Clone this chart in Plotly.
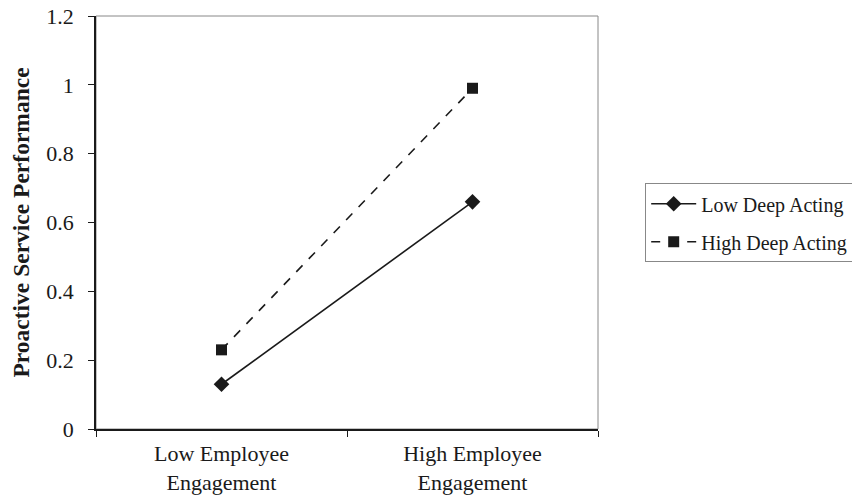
import plotly.graph_objects as go

categories = ["Low Employee<br>Engagement", "High Employee<br>Engagement"]
low_deep_acting = [0.13, 0.66]
high_deep_acting = [0.23, 0.99]
series_names = ["Low Deep Acting", "High Deep Acting"]

FONT = "Liberation Serif"

fig = go.Figure()
fig.add_trace(go.Scatter(
    x=categories, y=low_deep_acting, name=series_names[0],
    legendgroup="a",
    mode="lines+markers",
    line=dict(color="#1a1a1a", width=1.6),
    marker=dict(symbol="diamond", size=12, color="#1a1a1a"),
))
fig.add_trace(go.Scatter(
    x=categories, y=high_deep_acting, name=series_names[1],
    legendgroup="b",
    mode="lines+markers",
    line=dict(color="#1a1a1a", width=1.6, dash="dash"),
    marker=dict(symbol="square", size=11, color="#1a1a1a"),
))

fig.add_shape(type="rect", xref="paper", yref="paper", x0=0, x1=1, y0=0, y1=1,
              line=dict(color="#888888", width=1), layer="below")

fig.update_layout(
    width=860, height=496,
    margin=dict(l=88, r=270, t=8, b=75, autoexpand=False),
    paper_bgcolor="white", plot_bgcolor="white",
    font=dict(family=FONT, color="#1a1a1a", size=22),
    showlegend=True,
    legend=dict(x=1.094, y=0.595, xanchor="left", yanchor="top",
                bordercolor="#888888", borderwidth=1,
                font=dict(family=FONT, size=20, color="#1a1a1a"),
                tracegroupgap=9, itemwidth=45),
    xaxis=dict(type="category", range=[-0.5, 1.5], tickson="boundaries",
               ticks="outside", ticklen=6, tickcolor="#1a1a1a", showline=True,
               linecolor="#1a1a1a", linewidth=1.5, showgrid=False,
               ticklabelstandoff=4,
               tickfont=dict(family=FONT, size=22), zeroline=False),
    yaxis=dict(range=[0, 1.2], dtick=0.2, tick0=0, ticks="outside",
               ticklen=6, tickcolor="#1a1a1a", showline=True,
               linecolor="#1a1a1a", linewidth=1.5, showgrid=False,
               zeroline=False, tickfont=dict(family=FONT, size=22),
               ticklabelstandoff=10, ticklabeloverflow="allow",
               title=dict(text="<b>Proactive Service Performance</b>",
                          font=dict(family=FONT, size=23.5), standoff=13)),
)

fig.write_html("out.html")
